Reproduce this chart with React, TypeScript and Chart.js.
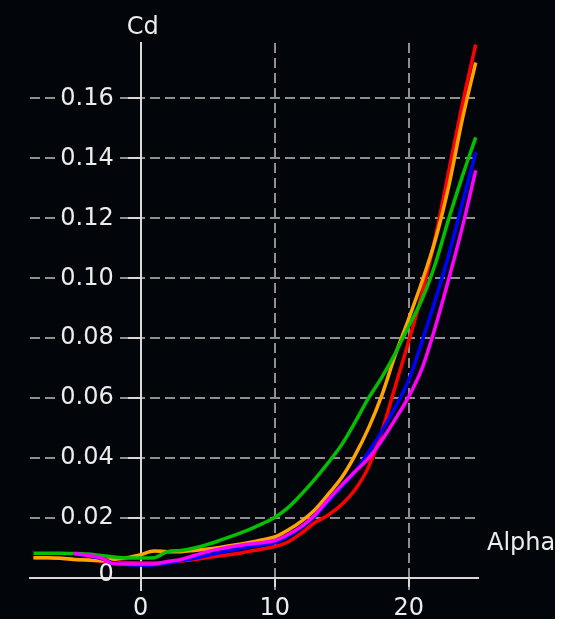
import { useEffect, useRef } from "react";
import { Chart, registerables } from "chart.js";

Chart.register(...registerables);

// Angle of attack (deg)
const alpha = [
  -8, -7, -6, -5, -4, -3, -2, -1, 0, 1, 2, 3, 4, 5, 6, 7, 8, 9, 10, 11, 12, 13, 14, 15, 16, 17,
  18, 19, 20, 21, 22, 23, 24, 25,
];

const cdRed = [
  0.0068, 0.0068, 0.0066, 0.0063, 0.006, 0.0057, 0.0054, 0.0052, 0.005, 0.005, 0.0053, 0.0057,
  0.0062, 0.0068, 0.0074, 0.008, 0.0088, 0.0096, 0.0105, 0.012, 0.015, 0.0185, 0.021, 0.0245,
  0.0295, 0.037, 0.049, 0.064, 0.079, 0.095, 0.114, 0.136, 0.158, 0.178,
];

const cdOrange = [
  0.0068, 0.0068, 0.0066, 0.0062, 0.006, 0.0058, 0.0062, 0.0068, 0.0078, 0.009, 0.0088, 0.0088,
  0.0092, 0.0097, 0.0103, 0.011, 0.0118, 0.0127, 0.0137, 0.016, 0.019, 0.0228, 0.028, 0.0335,
  0.041, 0.05, 0.061, 0.0745, 0.0865, 0.099, 0.113, 0.131, 0.153, 0.172,
];

const cdGreen = [
  0.0083, 0.0083, 0.0083, 0.0082, 0.008, 0.0075, 0.007, 0.0067, 0.0067, 0.0068, 0.0088, 0.0092,
  0.01, 0.0112, 0.0127, 0.0143, 0.016, 0.018, 0.0202, 0.0235, 0.028, 0.033, 0.0385, 0.0445,
  0.052, 0.06, 0.067, 0.075, 0.084, 0.093, 0.105, 0.12, 0.134, 0.147,
];

const cdBlue = [
  null, null, null, 0.008, 0.0074, 0.0066, 0.005, 0.0045, 0.0043, 0.0044, 0.005, 0.0058,
  0.0066, 0.0076, 0.0086, 0.0095, 0.0103, 0.011, 0.0118, 0.014, 0.0168, 0.0205, 0.0255, 0.0305,
  0.0355, 0.042, 0.049, 0.057, 0.066, 0.079, 0.093, 0.108, 0.125, 0.142,
];

const cdMagenta = [
  null, null, null, 0.0082, 0.0076, 0.0068, 0.0048, 0.0047, 0.0047, 0.0047, 0.0055, 0.0062,
  0.0075, 0.0088, 0.0098, 0.0106, 0.0113, 0.0118, 0.0125, 0.0145, 0.0172, 0.021, 0.0262, 0.031,
  0.0355, 0.04, 0.046, 0.053, 0.0605, 0.07, 0.084, 0.1, 0.117, 0.136,
];

const xTicks = [0, 10, 20];
const yTicks = [0, 0.02, 0.04, 0.06, 0.08, 0.1, 0.12, 0.14, 0.16];

const seriesColors = ["#ff00ff", "#0000ff", "#00c000", "#ffa500", "#ff0000"];
const seriesValues = [cdMagenta, cdBlue, cdGreen, cdOrange, cdRed];

const BG = "#02060a";
const TXT = "#ececec";
const AXIS = "#d8d8d8";
const GRID = "#8f8f8f";
const FONT_FAMILY = "'DejaVu Sans', Verdana, sans-serif";
const FONT_SIZE = 24;

const fmtY = (v: number) => (v === 0 ? "0" : v.toFixed(2));

const bgPlugin = {
  id: "bg",
  beforeDraw(chart: any) {
    const { ctx, width, height } = chart;
    ctx.save();
    ctx.fillStyle = BG;
    ctx.fillRect(0, 0, width, height);
    ctx.restore();
  },
};

// y tick labels placed left of the axis that sits at alpha = 0
const yLabelPlugin = {
  id: "yLabels",
  beforeDatasetsDraw(chart: any) {
    const { ctx } = chart;
    const x = chart.scales.x;
    const y = chart.scales.y;
    const right = x.getPixelForValue(0) - 27;
    ctx.save();
    ctx.font = `${FONT_SIZE}px ${FONT_FAMILY}`;
    ctx.textAlign = "right";
    ctx.textBaseline = "middle";
    y.ticks.forEach((t: any) => {
      const py = y.getPixelForValue(t.value);
      const label = fmtY(t.value);
      const w = ctx.measureText(label).width;
      if (t.value !== 0) {
        ctx.fillStyle = BG;
        ctx.fillRect(right - w - 3, py - 13, w + 7, 26);
      }
      ctx.fillStyle = TXT;
      ctx.fillText(label, right, t.value === 0 ? py - 3 : py);
    });
    ctx.restore();
  },
};

const titlePlugin = {
  id: "axisTitles",
  afterDraw(chart: any) {
    const { ctx, chartArea } = chart;
    const x = chart.scales.x;
    const y = chart.scales.y;
    ctx.save();
    ctx.font = `${FONT_SIZE}px ${FONT_FAMILY}`;
    ctx.fillStyle = TXT;
    ctx.textBaseline = "middle";
    ctx.textAlign = "center";
    ctx.fillText("Cd", x.getPixelForValue(0) + 2, chartArea.top - 15);
    ctx.textAlign = "left";
    ctx.fillText("Alpha", chartArea.right + 9, y.getPixelForValue(0) - 34);
    ctx.restore();
  },
};

const gridDash = (c: any) => (c.type === "tick" ? [10, 5] : []);

export default function App() {
  const ref = useRef<HTMLCanvasElement | null>(null);

  useEffect(() => {
    document.body.style.margin = "0";
    const canvas = ref.current;
    if (!canvas) return;
    const datasets = seriesValues.map((vals, i) => ({
      data: alpha.map((a, j) => ({ x: a, y: vals[j] })),
      borderColor: seriesColors[i],
      backgroundColor: seriesColors[i],
      borderWidth: 3.5,
      pointRadius: 0,
      fill: false,
      spanGaps: false,
      cubicInterpolationMode: "monotone" as const,
      clip: 6,
    }));

    const chart = new Chart(canvas, {
      type: "line",
      data: { datasets },
      plugins: [bgPlugin, yLabelPlugin, titlePlugin],
      options: {
        animation: false,
        responsive: false,
        maintainAspectRatio: false,
        parsing: false as any,
        layout: { padding: { left: 30, top: 43, right: 77, bottom: 29 } },
        plugins: {
          legend: { display: false },
          tooltip: { enabled: false },
        },
        scales: {
          x: {
            type: "linear",
            min: -8.26,
            max: 25.17,
            position: { y: 0 } as any,
            afterBuildTicks: (s: any) => {
              s.ticks = xTicks.map((v) => ({ value: v }));
            },
            grid: {
              color: GRID,
              lineWidth: 2,
              tickColor: AXIS,
              tickLength: 8,
              tickWidth: 2,
              tickBorderDash: [],
            },
            border: { color: AXIS, width: 2, dash: gridDash as any },
            ticks: {
              color: TXT,
              font: { family: FONT_FAMILY, size: FONT_SIZE },
              padding: 8,
              maxRotation: 0,
              callback: (v: any) => String(v),
            },
          },
          y: {
            type: "linear",
            min: -0.004,
            max: 0.1785,
            position: { x: 0 } as any,
            afterBuildTicks: (s: any) => {
              s.ticks = yTicks.map((v) => ({ value: v }));
            },
            grid: {
              color: GRID,
              lineWidth: 2,
              tickColor: AXIS,
              tickLength: 12,
              tickWidth: 2,
              tickBorderDash: [],
            },
            border: { color: AXIS, width: 2, dash: gridDash as any },
            ticks: { display: false },
          },
        },
      },
    });
    return () => chart.destroy();
  }, []);

  return (
    <div style={{ position: "absolute", left: 0, top: 0, width: 555, height: 619, background: BG }}>
      <canvas ref={ref} width={555} height={619} style={{ display: "block", width: 555, height: 619 }} />
    </div>
  );
}
